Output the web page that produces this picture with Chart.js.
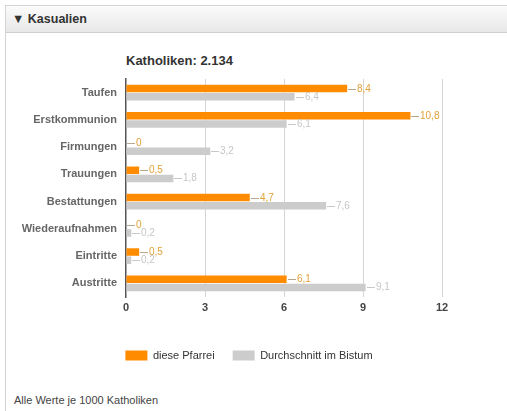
<!DOCTYPE html>
<html>
<head>
<meta charset="utf-8">
<script src="https://cdn.jsdelivr.net/npm/chart.js@4"></script>
<style>
  html, body { margin: 0; padding: 0; background: #fff; width: 507px; height: 411px; overflow: hidden; font-family: Arial, "Liberation Sans", sans-serif; }
  #panel { position: absolute; left: 5px; top: 5px; width: 520px; height: 420px; border-left: 1px solid #d4d4d4; border-top: 1px solid #d4d4d4; }
  #header { position: absolute; left: 0; top: 0; width: 520px; height: 26px; background: linear-gradient(#fbfbfb, #e8e8e8); border-bottom: 1px solid #cfcfcf; }
  #header span { position: absolute; left: 6px; top: 6px; font-size: 12.5px; font-weight: bold; color: #333; }
  #title { position: absolute; left: 126px; top: 53px; font-size: 13px; font-weight: bold; color: #333; }
  #note { position: absolute; left: 14px; top: 394px; font-size: 11px; color: #444; }
  #c { position: absolute; left: 0; top: 0; }
</style>
</head>
<body>
<div id="panel"><div id="header"><span>▼ Kasualien</span></div></div>
<div id="title">Katholiken: 2.134</div>
<div id="note">Alle Werte je 1000 Katholiken</div>
<canvas id="c" width="507" height="411"></canvas>
<script>
const categories = ["Taufen", "Erstkommunion", "Firmungen", "Trauungen", "Bestattungen", "Wiederaufnahmen", "Eintritte", "Austritte"];
const pfarreiValues = [8.4, 10.8, 0, 0.5, 4.7, 0, 0.5, 6.1];
const bistumValues = [6.4, 6.1, 3.2, 1.8, 7.6, 0.2, 0.2, 9.1];
const seriesNames = ["diese Pfarrei", "Durchschnitt im Bistum"];
const xTicks = [0, 3, 6, 9, 12];

function fmt(v) { return String(v).replace('.', ','); }

const valueLabels = {
  id: 'valueLabels',
  afterDatasetsDraw(chart) {
    const ctx = chart.ctx;
    chart.data.datasets.forEach((ds, di) => {
      const meta = chart.getDatasetMeta(di);
      meta.data.forEach((bar, i) => {
        const v = ds.data[i];
        const x = Math.round(bar.x);
        const y = Math.round(bar.y) + 0.5;
        ctx.save();
        ctx.strokeStyle = ds.connectorColor;
        ctx.lineWidth = 1;
        ctx.beginPath();
        ctx.moveTo(x + 1, y);
        ctx.lineTo(x + 9, y);
        ctx.stroke();
        ctx.fillStyle = ds.labelColor;
        ctx.font = '10px Arial, "Liberation Sans", sans-serif';
        ctx.textBaseline = 'middle';
        ctx.textAlign = 'left';
        ctx.fillText(fmt(v), x + 10, y);
        ctx.restore();
      });
    });
  }
};

const legendShift = {
  id: 'legendShift',
  afterLayout(chart) {
    if (chart.legend) { chart.legend.left = 56; }
  }
};

new Chart(document.getElementById('c'), {
  type: 'bar',
  data: {
    labels: categories,
    datasets: [
      { label: seriesNames[0], data: pfarreiValues, backgroundColor: '#ff8c00', labelColor: '#e3a13a', connectorColor: '#b8a890',
        categoryPercentage: 0.6, barPercentage: 0.92 },
      { label: seriesNames[1], data: bistumValues, backgroundColor: '#cccccc', labelColor: '#c6c6c6', connectorColor: '#c8c8c8',
        categoryPercentage: 0.6, barPercentage: 0.92 }
    ]
  },
  options: {
    indexAxis: 'y',
    responsive: false,
    animation: false,
    layout: { padding: { left: 0, right: 65, top: 79, bottom: 40 } },
    scales: {
      x: {
        min: 0, max: 12,
        afterBuildTicks(scale) { scale.ticks = xTicks.map(v => ({ value: v })); },
        grid: { color: c => (c.tick && c.tick.value === 0) ? 'rgba(0,0,0,0)' : '#d6d6d6', drawTicks: false, lineWidth: 1 },
        border: { display: false },
        ticks: { padding: 4, color: '#444', font: { size: 11, weight: 'bold', family: 'Arial, "Liberation Sans", sans-serif' } },
        afterFit(scale) { scale.height = 35; }
      },
      y: {
        grid: { display: false, drawTicks: false },
        border: { display: true, color: '#555', width: 1.5 },
        ticks: { padding: 9, color: '#666', font: { size: 11, weight: 'bold', family: 'Arial, "Liberation Sans", sans-serif' } },
        afterFit(scale) { scale.width = 126; }
      }
    },
    plugins: {
      legend: {
        position: 'bottom',
        labels: { boxWidth: 22, boxHeight: 10, padding: 18, color: '#333', font: { size: 11, family: 'Arial, "Liberation Sans", sans-serif' } }
      },
      title: { display: false },
      tooltip: { enabled: false }
    }
  },
  plugins: [valueLabels, legendShift]
});
</script>
</body>
</html>
